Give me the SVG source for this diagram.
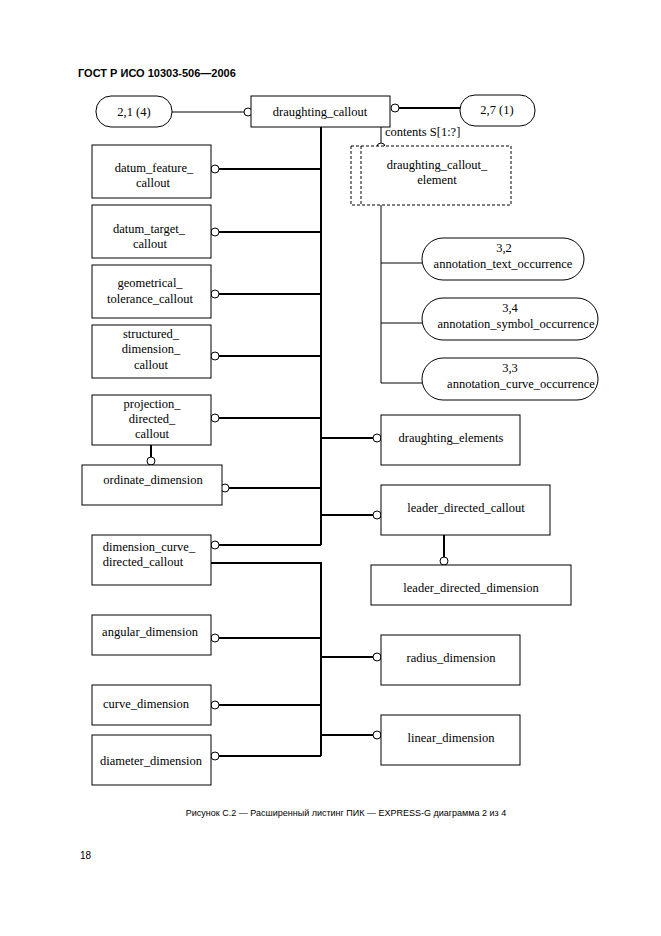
<svg xmlns="http://www.w3.org/2000/svg" width="661" height="936" viewBox="0 0 661 936">
<style>
.b{fill:#fff;stroke:#000;stroke-width:1}
.d{fill:#fff;stroke:#000;stroke-width:1;stroke-dasharray:3,2}
.t{font-family:"Liberation Serif",serif;font-size:12.5px;text-anchor:middle;fill:#000}
.k{stroke:#000;stroke-width:2;fill:none}
.n{stroke:#000;stroke-width:1;fill:none}
.c{fill:#fff;stroke:#000;stroke-width:1}
</style>
<rect width="661" height="936" fill="#fff"/>
<text x="78" y="77" font-family="Liberation Sans,sans-serif" font-size="11" font-weight="bold">ГОСТ Р ИСО 10303-506—2006</text>
<g id="connectors">
<path class="n" d="M172 112H244"/>
<path class="k" d="M399 108H460"/>
<path class="n" d="M381 127V143"/>
<path class="k" d="M321 127V545M219 169H321M219 232H321M219 294H321M219 356H321M219 418H321M229 488H321M321 438H373M321 515H373M219 545H321"/>
<path class="k" d="M151 445V457M444 535V557"/>
<path class="k" d="M211 563H321V756M219 638H321M219 705H321M219 756H321M321 657H373M321 735H373"/>
<path class="n" d="M381 205V383H422M381 263H422M381 323H422"/>
<circle class="c" cx="248" cy="112" r="4"/><circle class="c" cx="395" cy="108" r="4"/><circle class="c" cx="381" cy="147" r="4"/>
<circle class="c" cx="215" cy="169" r="4"/><circle class="c" cx="215" cy="232" r="4"/><circle class="c" cx="215" cy="294" r="4"/><circle class="c" cx="215" cy="356" r="4"/><circle class="c" cx="215" cy="418" r="4"/><circle class="c" cx="225" cy="488" r="4"/><circle class="c" cx="215" cy="545" r="4"/>
<circle class="c" cx="151" cy="461" r="4"/><circle class="c" cx="444" cy="561" r="4"/>
<circle class="c" cx="377" cy="438" r="4"/><circle class="c" cx="377" cy="515" r="4"/><circle class="c" cx="377" cy="657" r="4"/><circle class="c" cx="377" cy="735" r="4"/>
<circle class="c" cx="215" cy="638" r="4"/><circle class="c" cx="215" cy="705" r="4"/><circle class="c" cx="215" cy="756" r="4"/>
</g>
<text x="385" y="136" font-family="Liberation Serif,serif" font-size="12.5">contents S[1:?]</text>
<g id="n21"><rect class="b" x="96" y="96" width="76" height="31" rx="15"/><text class="t" x="134" y="116">2,1 (4)</text></g>
<g id="n27"><rect class="b" x="460" y="95" width="75" height="31" rx="15"/><text class="t" x="497" y="114">2,7 (1)</text></g>
<g id="dc"><rect class="b" x="251" y="96" width="139" height="31"/><text class="t" x="320" y="116">draughting_callout</text></g>
<g id="dce"><rect class="d" x="351" y="146" width="160" height="59"/><path class="n" stroke-dasharray="3,2" d="M361 146V205"/><text class="t" x="437" y="169">draughting_callout_</text><text class="t" x="437" y="184">element</text></g>
<g id="p32"><rect class="b" x="422" y="238" width="162" height="42" rx="21"/><text class="t" x="504" y="252">3,2</text><text class="t" x="503" y="268">annotation_text_occurrence</text></g>
<g id="p34"><rect class="b" x="422" y="298" width="176" height="42" rx="21"/><text class="t" x="510" y="312">3,4</text><text class="t" x="516" y="328">annotation_symbol_occurrence</text></g>
<g id="p33"><rect class="b" x="422" y="358" width="176" height="42" rx="21"/><text class="t" x="510" y="372">3,3</text><text class="t" x="521" y="388">annotation_curve_occurrence</text></g>
<g id="dfc"><rect class="b" x="92" y="145" width="119" height="53"/><text class="t" x="154" y="172">datum_feature_</text><text class="t" x="153" y="187">callout</text></g>
<g id="dtc"><rect class="b" x="92" y="205" width="119" height="53"/><text class="t" x="149" y="233">datum_target_</text><text class="t" x="150" y="248">callout</text></g>
<g id="gtc"><rect class="b" x="92" y="265" width="119" height="53"/><text class="t" x="150" y="287">geometrical_</text><text class="t" x="150" y="303">tolerance_callout</text></g>
<g id="sdc"><rect class="b" x="92" y="325" width="119" height="53"/><text class="t" x="151" y="338">structured_</text><text class="t" x="151" y="353">dimension_</text><text class="t" x="151" y="369">callout</text></g>
<g id="pdc"><rect class="b" x="92" y="395" width="119" height="50"/><text class="t" x="152" y="408">projection_</text><text class="t" x="152" y="423">directed_</text><text class="t" x="152" y="438">callout</text></g>
<g id="od"><rect class="b" x="82" y="465" width="140" height="40"/><text class="t" x="153" y="484">ordinate_dimension</text></g>
<g id="dcdc"><rect class="b" x="92" y="535" width="119" height="50"/><text class="t" x="149" y="551">dimension_curve_</text><text class="t" x="143" y="566">directed_callout</text></g>
<g id="ad"><rect class="b" x="92" y="615" width="119" height="40"/><text class="t" x="150" y="636">angular_dimension</text></g>
<g id="cd"><rect class="b" x="92" y="685" width="119" height="40"/><text class="t" x="146" y="708">curve_dimension</text></g>
<g id="dd"><rect class="b" x="92" y="735" width="119" height="50"/><text class="t" x="151" y="765">diameter_dimension</text></g>
<g id="de"><rect class="b" x="381" y="415" width="139" height="50"/><text class="t" x="451" y="442">draughting_elements</text></g>
<g id="ldc"><rect class="b" x="381" y="485" width="169" height="50"/><text class="t" x="466" y="512">leader_directed_callout</text></g>
<g id="ldd"><rect class="b" x="371" y="565" width="200" height="40"/><text class="t" x="471" y="592">leader_directed_dimension</text></g>
<g id="rd"><rect class="b" x="381" y="635" width="139" height="50"/><text class="t" x="451" y="662">radius_dimension</text></g>
<g id="ld"><rect class="b" x="381" y="715" width="139" height="50"/><text class="t" x="451" y="742">linear_dimension</text></g>
<text x="346" y="816" font-family="Liberation Sans,sans-serif" font-size="9" text-anchor="middle">Рисунок С.2 — Расширенный листинг ПИК — EXPRESS-G диаграмма 2 из 4</text>
<text x="80" y="859" font-family="Liberation Sans,sans-serif" font-size="10">18</text>
</svg>
